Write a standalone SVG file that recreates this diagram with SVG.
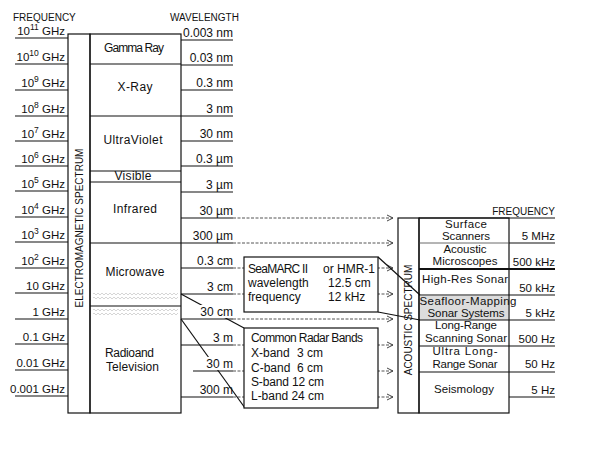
<svg xmlns="http://www.w3.org/2000/svg" width="590" height="451" viewBox="0 0 590 451">
<style>
text{font-family:"Liberation Sans",Arial,sans-serif;fill:#111}
.hd{font-size:10px}
.fl{font-size:11.5px;text-anchor:end}
.wl{font-size:12px;text-anchor:end}
.bl{font-size:12px;text-anchor:middle}
.al{font-size:11.5px;text-anchor:middle}
.af{font-size:11.5px;text-anchor:end}
.bx{font-size:12px}
.sup{font-size:8.5px}
.ln{stroke:#111;stroke-width:1.2;fill:none}
.tn{stroke:#444;stroke-width:0.8;fill:none}
.th{stroke:#111;stroke-width:2;fill:none}
.dt{stroke:#555;stroke-width:1;stroke-dasharray:3 1.5;fill:none}
.box{fill:#fff;stroke:#111;stroke-width:1.2}
</style>
<defs>
<marker id="ar" viewBox="0 0 8 8" refX="7" refY="4" markerWidth="8" markerHeight="8" markerUnits="userSpaceOnUse" orient="auto">
<path d="M1,1 L7,4 L1,7" fill="none" stroke="#444" stroke-width="1"/>
</marker>
<pattern id="hatch" width="4" height="4" patternUnits="userSpaceOnUse">
<path d="M0,3 L2,1 M2,1 L4,3" stroke="#c4c4c4" stroke-width="0.7" fill="none"/>
</pattern>
</defs>
<rect width="590" height="451" fill="#fff"/>

<!-- headers -->
<text class="hd" x="13" y="21">FREQUENCY</text>
<text class="hd" x="170" y="21">WAVELENGTH</text>
<text class="hd" x="555" y="215" text-anchor="end">FREQUENCY</text>

<!-- connectors -->
<g id="connectors">
<path class="dt" d="M233,218 H393" marker-end="url(#ar)"/>
<path class="dt" d="M233,243 H393" marker-end="url(#ar)"/>
<path class="dt" d="M233,268 H393" marker-end="url(#ar)"/>
<path class="dt" d="M233,294 H393" marker-end="url(#ar)"/>
<path class="dt" d="M233,319 H393" marker-end="url(#ar)"/>
<path class="dt" d="M233,345 H393" marker-end="url(#ar)"/>
<path class="dt" d="M233,371 H393" marker-end="url(#ar)"/>
<path class="dt" d="M233,397 H393" marker-end="url(#ar)"/>
<path class="ln" d="M181,294 L244,328"/>
<path class="ln" d="M181,319 L245,408"/>
<path class="ln" d="M378,257 L420,295"/>
<path class="ln" d="M378,312 L420,320"/>
</g>

<!-- EM spectrum -->
<g id="em-spectrum">
<rect x="68" y="34" width="22" height="379" fill="none" class="ln"/>
<rect x="90" y="34" width="91" height="379" fill="none" class="ln"/>
<text class="hd" font-size="10.5" transform="translate(83,228) rotate(-90)" text-anchor="middle">ELECTROMAGNETIC SPECTRUM</text>
<rect x="93" y="293" width="85" height="8" fill="url(#hatch)"/>
<rect x="93" y="308" width="85" height="8" fill="url(#hatch)"/>
<path class="ln" d="M90,64 H181 M90,116 H181 M90,171 H181 M90,182 H181 M90,243 H181 M90,306 H181"/>
</g>
<g id="band-gamma"><text class="bl" x="134" y="52" textLength="60">Gamma Ray</text></g>
<g id="band-xray"><text class="bl" x="135" y="91" textLength="35">X-Ray</text></g>
<g id="band-uv"><text class="bl" x="133" y="144" textLength="59">UltraViolet</text></g>
<g id="band-visible"><text class="bl" x="133" y="180" textLength="37">Visible</text></g>
<g id="band-ir"><text class="bl" x="135" y="213" textLength="44">Infrared</text></g>
<g id="band-microwave"><text class="bl" x="135" y="276" textLength="59">Microwave</text></g>
<g id="band-radio"><text class="bx" x="105" y="357" textLength="49">Radioand</text><text class="bx" x="106" y="371" textLength="53">Television</text></g>

<!-- frequency ticks -->
<g id="freq-axis">
<path class="ln" d="M15,38 H68 M15,64 H68 M15,90 H68 M15,116 H68 M15,141 H68 M15,166 H68 M15,191 H68 M15,217 H68 M15,242 H68 M15,268 H68 M15,293 H68 M15,319 H68 M15,344 H68 M15,370 H68 M15,396 H68"/>
<text class="fl" x="65" y="35">10<tspan class="sup" dy="-5">11</tspan><tspan dy="5"> GHz</tspan></text>
<text class="fl" x="65" y="61">10<tspan class="sup" dy="-5">10</tspan><tspan dy="5"> GHz</tspan></text>
<text class="fl" x="65" y="87">10<tspan class="sup" dy="-5">9</tspan><tspan dy="5"> GHz</tspan></text>
<text class="fl" x="65" y="113">10<tspan class="sup" dy="-5">8</tspan><tspan dy="5"> GHz</tspan></text>
<text class="fl" x="65" y="138">10<tspan class="sup" dy="-5">7</tspan><tspan dy="5"> GHz</tspan></text>
<text class="fl" x="65" y="163">10<tspan class="sup" dy="-5">6</tspan><tspan dy="5"> GHz</tspan></text>
<text class="fl" x="65" y="188">10<tspan class="sup" dy="-5">5</tspan><tspan dy="5"> GHz</tspan></text>
<text class="fl" x="65" y="214">10<tspan class="sup" dy="-5">4</tspan><tspan dy="5"> GHz</tspan></text>
<text class="fl" x="65" y="239">10<tspan class="sup" dy="-5">3</tspan><tspan dy="5"> GHz</tspan></text>
<text class="fl" x="65" y="265">10<tspan class="sup" dy="-5">2</tspan><tspan dy="5"> GHz</tspan></text>
<text class="fl" x="65" y="290">10 GHz</text>
<text class="fl" x="65" y="316">1 GHz</text>
<text class="fl" x="65" y="341">0.1 GHz</text>
<text class="fl" x="65" y="367">0.01 GHz</text>
<text class="fl" x="65" y="393">0.001 GHz</text>
</g>

<!-- wavelength ticks -->
<g id="wave-axis">
<path class="ln" d="M181,40 H233 M181,65 H233 M181,90 H233 M181,116 H233 M181,141 H233 M181,166 H233 M181,192 H233 M181,218 H233 M181,243 H233 M181,268 H233 M181,294 H233 M181,319 H233 M181,345 H233 M193,371 H233 M181,397 H233"/>
<rect x="199" y="305" width="35" height="13" fill="#fff"/>
<rect x="202" y="357" width="31" height="13" fill="#fff"/>
<text class="wl" x="233" y="37">0.003 nm</text>
<text class="wl" x="233" y="62">0.03 nm</text>
<text class="wl" x="233" y="87">0.3 nm</text>
<text class="wl" x="233" y="113">3 nm</text>
<text class="wl" x="233" y="138">30 nm</text>
<text class="wl" x="233" y="163">0.3 µm</text>
<text class="wl" x="233" y="189">3 µm</text>
<text class="wl" x="233" y="215">30 µm</text>
<text class="wl" x="233" y="240">300 µm</text>
<text class="wl" x="233" y="265">0.3 cm</text>
<text class="wl" x="233" y="291">3 cm</text>
<text class="wl" x="233" y="316">30 cm</text>
<text class="wl" x="233" y="342">3 m</text>
<text class="wl" x="233" y="368">30 m</text>
<text class="wl" x="233" y="394">300 m</text>
</g>

<!-- SeaMARC box -->
<g id="seamarc">
<rect class="box" x="244" y="257" width="134" height="55"/>
<text class="bx" x="248" y="273" textLength="60">SeaMARC II</text>
<text class="bx" x="323" y="273">or HMR-1</text>
<text class="bx" x="248" y="287">wavelength</text>
<text class="bx" x="328" y="287">12.5 cm</text>
<text class="bx" x="248" y="301">frequency</text>
<text class="bx" x="328" y="301">12 kHz</text>
</g>

<!-- Radar box -->
<g id="radar">
<rect class="box" x="244" y="328" width="134" height="80"/>
<text class="bx" x="251" y="342" textLength="112">Common Radar Bands</text>
<text class="bx" x="251" y="357">X-band</text><text class="bx" x="297" y="357">3 cm</text>
<text class="bx" x="251" y="372">C-band</text><text class="bx" x="297" y="372">6 cm</text>
<text class="bx" x="251" y="386" textLength="73">S-band 12 cm</text>
<text class="bx" x="251" y="400" textLength="73">L-band 24 cm</text>
</g>

<!-- Acoustic spectrum -->
<g id="acoustic-spectrum">
<rect x="420" y="296" width="88" height="24" fill="#dcdcdc"/>
<rect x="398" y="218" width="21" height="195" class="ln"/>
<rect x="419" y="218" width="90" height="195" class="ln"/>
<path class="ln" d="M419,218 H555"/>
<path class="tn" d="M419,243 H509"/>
<path class="th" d="M419,269 H555"/>
<path class="ln" d="M419,295 H509 M419,320 H509 M419,346 H509 M419,372 H509"/>
<path class="ln" d="M509,243 H555 M509,295 H555 M509,320 H555 M509,346 H555 M509,372 H555 M509,397 H555"/>
<text class="hd" font-size="9.5" transform="translate(412,320) rotate(-90)" text-anchor="middle">ACOUSTIC SPECTRUM</text>
</g>
<g id="ac-surface"><text class="al" x="466" y="228" textLength="42">Surface</text><text class="al" x="466" y="240" textLength="48">Scanners</text><text class="af" x="555" y="240">5 MHz</text></g>
<g id="ac-micro"><text class="al" x="465" y="253" textLength="43">Acoustic</text><text class="al" x="465" y="265" textLength="65">Microscopes</text><text class="af" x="555" y="266">500 kHz</text></g>
<g id="ac-highres"><text class="al" x="465" y="283" textLength="86">High-Res  Sonar</text><text class="af" x="555" y="292">50 kHz</text></g>
<g id="ac-seafloor"><text class="al" x="468" y="305" textLength="97">Seafloor-Mapping</text><text class="al" x="466" y="317" textLength="77">Sonar Systems</text><text class="af" x="555" y="317">5 kHz</text></g>
<g id="ac-longrange"><text class="al" x="466" y="329" textLength="62">Long-Range</text><text class="al" x="466" y="342" textLength="82">Scanning Sonar</text><text class="af" x="555" y="343">500 Hz</text></g>
<g id="ac-ultra"><text class="al" x="465" y="355" textLength="65">Ultra  Long-</text><text class="al" x="465" y="368" textLength="65">Range Sonar</text><text class="af" x="555" y="368">50 Hz</text></g>
<g id="ac-seismo"><text class="al" x="464" y="393" textLength="60">Seismology</text><text class="af" x="555" y="394">5 Hz</text></g>
</svg>
